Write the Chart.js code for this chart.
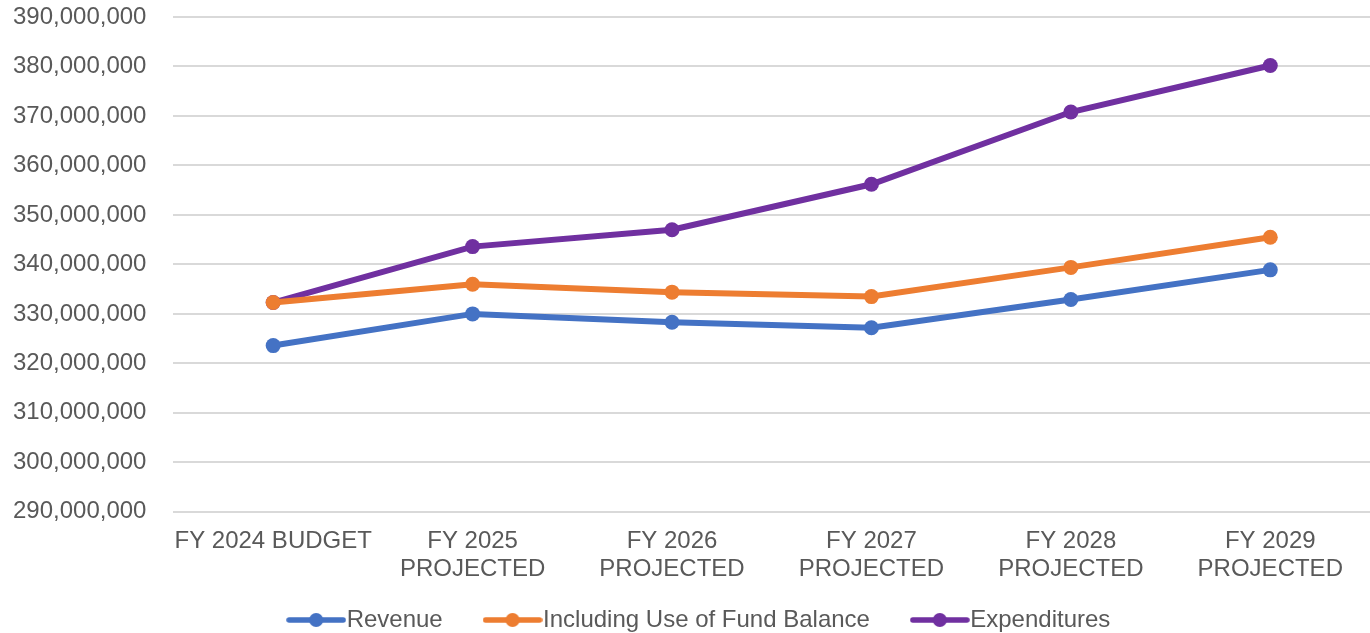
<!DOCTYPE html>
<html>
<head>
<meta charset="utf-8">
<script src="https://cdn.jsdelivr.net/npm/chart.js@4.4.1/dist/chart.umd.min.js"></script>
<style>
    html, body { margin: 0; padding: 0; background: #fff; }
    #wrap { width: 1370px; height: 633px; position: relative; }
</style>
</head>
<body>
<div id="wrap"><canvas id="chartBudget"></canvas></div>
<script>
// data
const categories = [
    "FY 2024 BUDGET",
    ["FY 2025", "PROJECTED"],
    ["FY 2026", "PROJECTED"],
    ["FY 2027", "PROJECTED"],
    ["FY 2028", "PROJECTED"],
    ["FY 2029", "PROJECTED"]
];
const revenue      = [323600000, 330000000, 328300000, 327200000, 332900000, 338900000];
const withFundBal  = [332300000, 336000000, 334400000, 333500000, 339400000, 345500000];
const expenditures = [332300000, 343600000, 347000000, 356200000, 370800000, 380200000];
const yMin  = 290000000;
const yMax  = 390000000;
const yStep = 10000000;

const seriesNames  = ["Revenue", "Including Use of Fund Balance", "Expenditures"];
const seriesColors = ["#4472C4", "#ED7D31", "#7030A0"];

// little line-with-dot marker for the legend
function legendMarker(color) {
    const c = document.createElement("canvas");
    c.width = 60;
    c.height = 16;
    const g = c.getContext("2d");
    g.strokeStyle = color;
    g.lineWidth = 5.5;
    g.lineCap = "round";
    g.beginPath();
    g.moveTo(3, 8);
    g.lineTo(57, 8);
    g.stroke();
    g.fillStyle = color;
    g.beginPath();
    g.arc(30, 8, 7, 0, Math.PI * 2);
    g.fill();
    return c;
}

function makeSet(i, data) {
    return {
        label: seriesNames[i],
        data: data,
        borderColor: seriesColors[i],
        backgroundColor: seriesColors[i],
        borderWidth: 6,
        pointRadius: 7.5,
        pointHoverRadius: 7.5,
        pointBorderWidth: 0,
        tension: 0
    };
}

Chart.defaults.font.family = "'Liberation Sans', Arial, sans-serif";
Chart.defaults.font.size = 24;
Chart.defaults.color = "#595959";

// legend spacing between items is wider than its vertical padding, so pad the text
const legendGap = "\u00a0\u00a0\u00a0\u00a0\u00a0";

// the legend in the original sits a bit right of the canvas centre
const nudgeLegend = {
    id: "nudgeLegend",
    afterLayout(chart) {
        if (chart.legend) {
            chart.legend.left += 13;
            chart.legend.right += 13;
        }
    }
};

new Chart(document.getElementById("chartBudget"), {
    type: "line",
    data: {
        labels: categories,
        datasets: [makeSet(0, revenue), makeSet(1, withFundBal), makeSet(2, expenditures)]
    },
    options: {
        responsive: true,
        maintainAspectRatio: false,
        animation: false,
        layout: { autoPadding: false, padding: { left: 12, right: 0, top: 17, bottom: -9 } },
        scales: {
            x: {
                offset: true,
                grid: { display: false },
                border: { display: false },
                ticks: { maxRotation: 0, autoSkip: false, padding: 7, font: { lineHeight: 1.17 } }
            },
            y: {
                min: yMin,
                max: yMax,
                grid: {
                    color: "#d9d9d9",
                    lineWidth: 2,
                    drawTicks: true,
                    tickLength: 26,
                    tickColor: "rgba(0,0,0,0)"
                },
                border: { display: false },
                ticks: {
                    stepSize: yStep,
                    padding: 1,
                    callback: v => v.toLocaleString("en-US")
                }
            }
        },
        plugins: {
            tooltip: { enabled: false },
            legend: {
                position: "bottom",
                labels: {
                    usePointStyle: true,
                    pointStyleWidth: 37,
                    boxHeight: 16,
                    padding: 18,
                    generateLabels: chart => chart.data.datasets.map((ds, i) => ({
                        text: ds.label + (i < 2 ? legendGap : ""),
                        fillStyle: seriesColors[i],
                        strokeStyle: seriesColors[i],
                        lineWidth: 0,
                        pointStyle: legendMarker(seriesColors[i]),
                        fontColor: "#595959",
                        hidden: false,
                        datasetIndex: i
                    }))
                }
            }
        }
    },
    plugins: [nudgeLegend]
});
</script>
</body>
</html>
